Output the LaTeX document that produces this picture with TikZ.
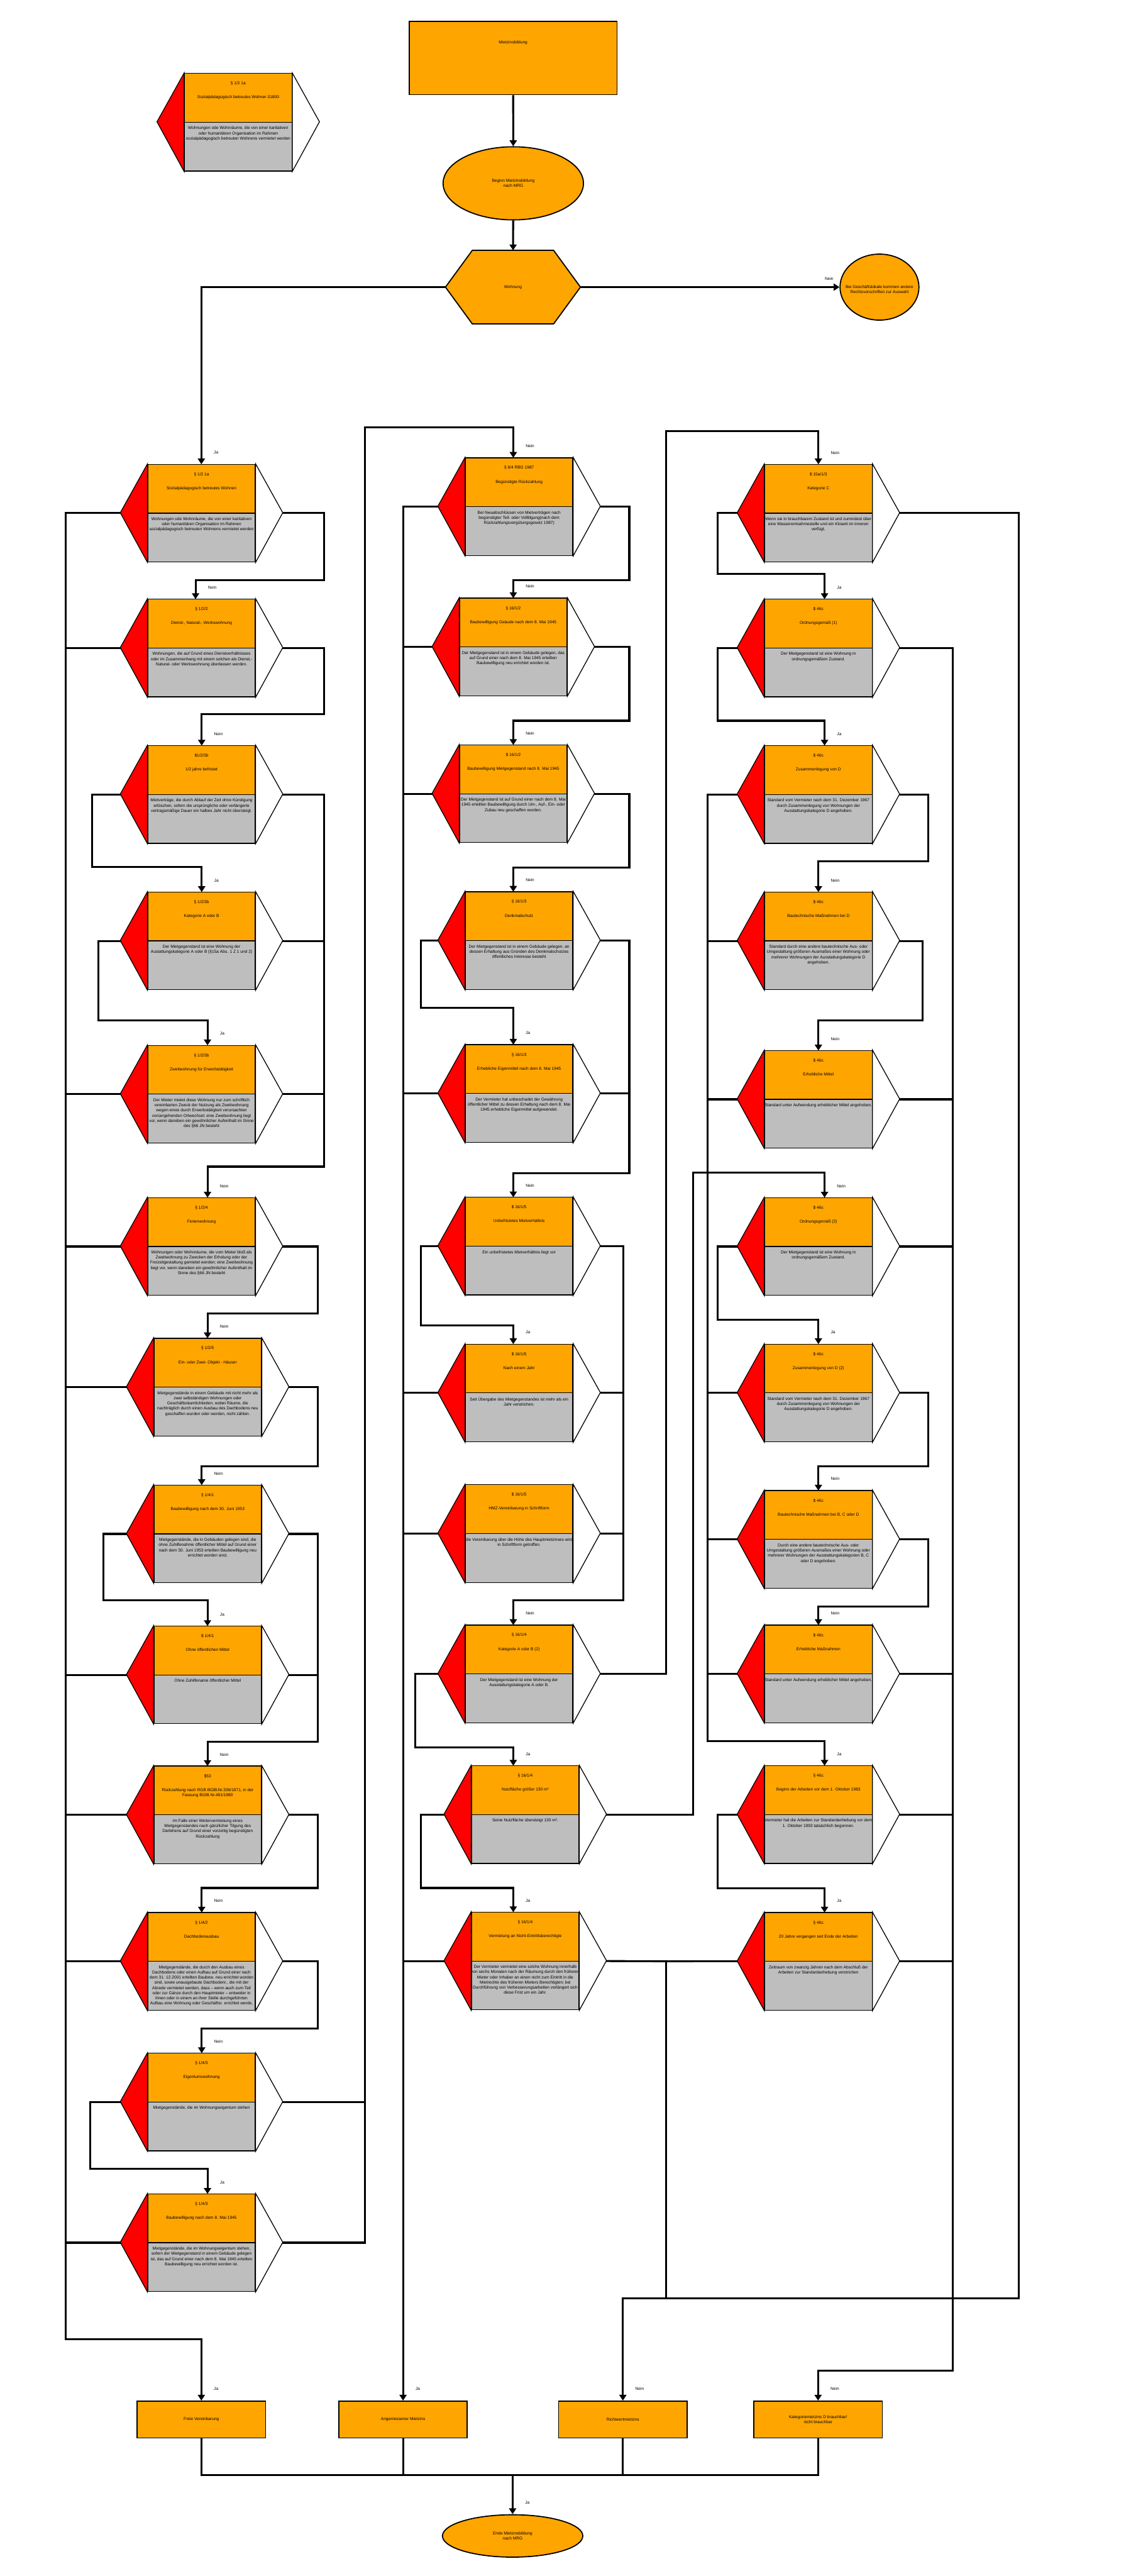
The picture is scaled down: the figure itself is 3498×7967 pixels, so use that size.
\documentclass[tikz,border=0pt]{standalone}
\usepackage{fontspec}
\setmainfont{Liberation Sans}
\usetikzlibrary{arrows.meta,shapes.geometric,positioning,backgrounds}

\definecolor{orangeA}{HTML}{FFA500}
\definecolor{grauA}{HTML}{BEBEBE}
\newcommand{\schrift}{\fontsize{3.65}{4.55}\selectfont}

% Pruefelement: Name, Mitte x, Oberkante y, Pfeil x, Paragraph, Titel, Beschreibung
\newcommand{\pruefung}[7]{%
  \node[kopf] (#1) at (#2,#3+75.5) {};
  \node[rumpf] (#1-b) at (#2,#3+226.5) {};
  \filldraw[jaseite] (#1.north west) -- ++(-84,151) -- (#1-b.south west) -- cycle;
  \filldraw[neinseite] (#1.north east) -- ++(84,151) -- (#1-b.south east) -- cycle;
  \coordinate (#1-w) at (#2-250,#3+151);
  \coordinate (#1-e) at (#2+250,#3+151);
  \coordinate (#1-n) at (#4,#3);
  \node[txt, anchor=north] (#1-p) at (#2,#3+25) {#5};
  \node[txt, anchor=north] (#1-t) at (#2,#3+68) {#6};
  \node[txt, anchor=north] (#1-d) at (#2,#3+163.5) {#7};
}
% Antwort am Pfeil
\newcommand{\antwort}[3]{\node[marke, anchor=west] (#1) at ([xshift=0.38cm,yshift=0.36cm]#2) {#3};}

\begin{document}
\begin{tikzpicture}[x=0.01cm, y=-0.01cm,
    kopf/.style={rectangle, draw, fill=orangeA, minimum width=3.32cm, minimum height=1.51cm,
      inner sep=0pt, line width=0.025cm},
    rumpf/.style={kopf, fill=grauA},
    jaseite/.style={fill=red, draw, line width=0.025cm},
    neinseite/.style={fill=white, draw, line width=0.025cm},
    txt/.style={font=\schrift, align=center, inner sep=0pt},
    marke/.style={font=\schrift, inner sep=0pt},
    kasten/.style={rectangle, draw, fill=orangeA, line width=0.03cm, inner sep=0pt,
      font=\schrift, align=center},
    rund/.style={ellipse, draw, fill=orangeA, line width=0.035cm, inner sep=0pt,
      font=\schrift, align=center},
    verb/.style={line width=0.06cm},
    pfeil/.style={verb, -{Triangle[width=0.22cm,length=0.18cm]}}]

    \useasboundingbox (0,0) rectangle (3498,7967);
    \begin{scope}[on background layer]
      \fill[white] (0,0) rectangle (3498,7967);
    \end{scope}

    % Start
    \node[kasten, minimum width=6.43cm, minimum height=2.27cm] (start) at (1587.5,179.5) {};
    \node[txt, anchor=north] (starttext) at (1587.5,126) {Mietzinsbildung};
    \node[rund, minimum width=4.34cm, minimum height=2.26cm] (beginn) at (1588,567) {Beginn Mietzinsbildung\\nach MRG};

    % Wohnung
    \node[minimum width=4.16cm, minimum height=2.26cm, inner sep=0pt, font=\schrift] (wohnung) at (1587,888) {Wohnung};
    \begin{scope}[on background layer]
      \filldraw[fill=orangeA, line width=0.035cm] (wohnung.west) -- ([xshift=0.83cm]wohnung.north west)
        -- ([xshift=-0.83cm]wohnung.north east) -- (wohnung.east)
        -- ([xshift=-0.83cm]wohnung.south east) -- ([xshift=0.83cm]wohnung.south west) -- cycle;
    \end{scope}
    \node[rund, minimum width=2.44cm, minimum height=2.04cm] (geschaeft) at (2721,888) {};
    \node[txt, anchor=north] (geschaefttext) at (2721,882) {Bei Geschäftslokale kommen andere\\Rechtsvorschriften zur Auswahl};

    % Legende
    \pruefung{legende}{737}{227}{737}{§ 1/2 1a}{Sozialpädagogisch betreutes Wohner-31800}
      {Wohnungen ode Wohnräume, die von einer karitativen\\oder humanitären Organisation im Rahmen\\sozialpädagogisch betreuten Wohnens vermietet werden}

    % Spalte links
    \pruefung{l1}{623.5}{1436}{623}{§ 1/2 1a}{Sozialpädagogisch betreutes Wohnen}
      {Wohnungen ode Wohnräume, die von einer karitativen\\oder humanitären Organisation im Rahmen\\sozialpädagogisch betreuten Wohnens vermietet werden}
    \pruefung{l2}{623.5}{1853}{605}{§ 1/2/2}{Dienst-, Natural-, Werkswohnung}
      {Wohnungen, die auf Grund eines Dienstverhältnisses\\oder im Zusammenhang mit einem solchen als Dienst,-\\Natural- oder Werkswohnung überlassen werden.}
    \pruefung{l3}{623.5}{2306}{624}{\$1/2/3b}{1/2 jahre befristet}
      {Mietverträge, die durch Ablauf der Zeit ohne Kündigung\\erlöschen, sofern die ursprüngliche oder verlängerte\\vertragsmäßige Dauer ein halbes Jahr nicht übersteigt.}
    \pruefung{l4}{623.5}{2759}{624}{§ 1/2/3b}{Kategorie A oder B}
      {Der Mietgegenstand ist eine Wohnung der\\Austattungskategorie A oder B (§15a Abs. 1 Z 1 und 2)}
    \pruefung{l5}{623.5}{3233}{642}{§ 1/2/3b}{Zweitwohnung für Erwerbstätigkeit}
      {Der Mieter mietet diese Wohnung nur zum schriftlich\\vereinbarten Zweck der Nutzung als Zweitwohnung\\wegen eines durch Erwerbstätigkeit verursachten\\vorüergehenden Ortwechsel; eine Zweitwohnung liegt\\vor, wenn daneben ein gewöhnlicher Aufenthalt im Sinne\\des §66 JN besteht}
    \pruefung{l6}{623.5}{3704}{642}{§ 1/2/4}{Ferienwohnung}
      {Wohnungen oder Wohnräume, die vom Mieter bloß als\\Zweitwohnung zu Zwecken der Erholung oder der\\Freizeitgestaltung gemietet werden; eine Zweitwohnung\\liegt vor, wenn daneben ein gewöhnlicher Aufenthalt im\\Sinne des §66 JN besteht}
    \pruefung{l7}{642.5}{4139}{642}{§ 1/2/5}{Ein- oder Zwei- Objekt - Häuser}
      {Mietgegenstände in einem Gebäude mit nicht mehr als\\zwei selbständigen Wohnungen oder\\Geschäftsräumlichkeiten, wobei Räume, die\\nachträglich durch einen Ausbau des Dachbodens neu\\geschaffen wurden oder werden, nicht zählen.}
    \pruefung{l8}{642.5}{4593}{624}{§ 1/4/1}{Baubewilligung nach dem 30. Juni 1953}
      {Mietgegenstände, die in Gebäuden gelegen sind, die\\ohne Zuhilfenahme öffentlicher Mittel auf Grund einer\\nach dem 30. Juni 1953 erteilten Baubewilligung neu\\errichtet worden sind,}
    \pruefung{l9}{642.5}{5029}{642}{\$ 1/4/1}{Ohne öffentlichen Mittel}
      {Ohne Zuhilfename öffentlicher Mittel}
    \pruefung{l10}{642.5}{5462}{642}{\$53}{Rückzahlung nach RGB BGBl.Nr.336/1971, in der\\Fassung BGBl.Nr.481/1980}
      {Im Falle einer Weitervermietung eines\\Mietgegenstandes nach gänzlicher Tilgung des\\Darlehens auf Grund einer vorzeitig begünstigten\\Rückzahlung}
    \pruefung{l11}{623.5}{5915}{624}{§ 1/4/2}{Dachbodenausbau}
      {Mietgegenstände, die durch den Ausbau eines\\Dachbodens oder einen Aufbau auf Grund einer nach\\dem 31. 12.2001 erteilten Baubew. neu errichtet worden\\sind, sowie unausgebaute Dachbodenr., die mit der\\Abrede vermietet werden, dass – wenn auch zum Teil\\oder zur Gänze durch den Hauptmieter – entweder in\\ihnen oder in einem an ihrer Stelle durchgeführten\\Aufbau eine Wohnung oder Geschäftsr. errichtet werde,}
    \pruefung{l12}{623.5}{6350}{624}{§ 1/4/3}{Eigentumswohnung}
      {Mietgegenstände, die im Wohnungseigentum stehen}
    \pruefung{l13}{623.5}{6785}{642}{§ 1/4/3}{Baubewilligung nach dem 8. Mai 1945}
      {Mietgegenstände, die im Wohnungseigentum stehen,\\sofern der Mietgegenstand in einem Gebäude gelegen\\ist, das auf Grund einer nach dem 8. Mai 1945 erteilten\\Baubewilligung neu errichtet worden ist.}

    % Spalte Mitte
    \pruefung{m1}{1606}{1416}{1588}{§ 6/4 RBG 1987}{Begünstigte Rückzahlung}
      {Bei Nwuabschlüssen von Mietverträgen nach\\begünstigter Teil- oder Volltilgung(nach dem\\Rückzahlungsvergütungsgesetz 1987)}
    \pruefung{m2}{1588}{1850}{1588}{§ 16/1/2}{Baubewilligung Geäude nach dem 8. Mai 1945}
      {Der Mietgegenstand ist in einem Gebäude gelegen, das\\auf Grund einer nach dem 8. Mai 1945 erteilten\\Baubewilligung neu errichtet worden ist.}
    \pruefung{m3}{1588}{2304}{1588}{\$ 16/1/2}{Baubewilligung Mietgegenstand nach 8. Mai 1945}
      {Der Mietgegenstand ist auf Grund einer nach dem 8. Mai\\1945 erteilten Baubewilligung durch Um-, Auf-, Ein- oder\\Zubau neu geschaffen worden.}
    \pruefung{m4}{1606}{2758}{1588}{§ 16/1/3}{Denkmalschutz}
      {Der Mietgegenstand ist in einem Gebäude gelegen, an\\dessen Erhaltung aus Gründen des Denkmalschutzes\\öffentliches Interesse besteht}
    \pruefung{m5}{1606}{3231}{1588}{§ 16/1/3}{Erhebliche Eigenmittel nach dem 8. Mai 1945}
      {Der Vermieter hat unbeschadet der Gewährung\\öffentlicher Mittel zu dessen Erhaltung nach dem 8. Mai\\1945 erhebliche Eigenmittel aufgewendet.}
    \pruefung{m6}{1606}{3703}{1588}{\$ 16/1/5}{Unbefristetes Mietverhältnis}
      {Ein unbefristetes Mietverhältnis liegt vor}
    \pruefung{m7}{1606}{4157}{1588}{\$ 16/1/5}{Nach einem Jahr}
      {Seit Übergabe des Mietgegenstandes ist mehr als ein\\Jahr verstrichen.}
    \pruefung{m8}{1606}{4592}{1588}{\$ 16/1/5}{HMZ-Vereinbarung in Schriftform}
      {die Vereinbarung über die Höhe des Hauptmietzinses wird\\in Schriftform getroffen.}
    \pruefung{m9}{1606}{5026}{1588}{§ 16/1/4}{Kategorie A oder B (2)}
      {Der Mietgegenstand ist eine Wohnung der\\Ausstattungskategorie A oder B.}
    \pruefung{m10}{1625}{5461}{1588}{§ 16/1/4}{Nutzfläche größer 130 m²}
      {Seine Nutzfläche übersteigt 130 m².}
    \pruefung{m11}{1625}{5914}{1588}{§ 16/1/4}{Vermietung an Nicht-Eintrittsberechtigte}
      {Der Vermieter vermietet eine solche Wohnung innerhalb\\von sechs Monaten nach der Räumung durch den früheren\\Mieter oder Inhaber an einen nicht zum Eintritt in die\\Mietrechte des früheren Mieters Berechtigten; bei\\Durchführung von Verbesserungsarbeiten verlängert sich\\diese Frist um ein Jahr.}

    % Spalte rechts
    \pruefung{r1}{2532}{1436}{2532}{\$ 15a/1/3}{Kategorie C}
      {Wenn sie in brauchbarem Zustand ist und zumindest über\\eine Wasserentnahmestelle und ein Klosett im Inneren\\verfügt.}
    \pruefung{r2}{2532}{1853}{2551}{\$ 46c}{Ordnungsgemäß (1)}
      {Der Mietgegenstand ist eine Wohnung in\\ordnungsgemäßem Zustand.}
    \pruefung{r3}{2532}{2306}{2551}{\$ 46c}{Zusammenlegung von D}
      {Standard vom Vermieter nach dem 31. Dezember 1967\\durch Zusammenlegung von Wohnungen der\\Ausstattungskategorie D angehoben.}
    \pruefung{r4}{2532}{2759}{2532}{\$ 46c}{Bautechnische Maßnahmen bei D}
      {Standard durch eine andere bautechnische Aus- oder\\Umgestaltung größeren Ausmaßes einer Wohnung oder\\mehrerer Wohnungen der Ausstattungskategorie D\\angehoben.}
    \pruefung{r5}{2532}{3249}{2532}{\$ 46c}{Erhebliche Mittel}
      {Standard unter Aufwendung erheblicher Mittel angehoben.}
    \pruefung{r6}{2532}{3704}{2551}{\$ 46c}{Ordnungsgemäß (2)}
      {Der Mietgegenstand ist eine Wohnung in\\ordnungsgemäßem Zustand.}
    \pruefung{r7}{2532}{4157}{2532}{\$ 46c}{Zusammenlegung von D (2)}
      {Standard vom Vermieter nach dem 31. Dezember 1967\\durch Zusammenlegung von Wohnungen der\\Ausstattungskategorie D angehoben.}
    \pruefung{r8}{2532}{4610}{2532}{\$ 46c}{Bautechnische Maßnahmen bei B, C oder D}
      {Durch eine andere bautechnische Aus- oder\\Umgestaltung größeren Ausmaßes einer Wohnung oder\\mehrerer Wohnungen der Ausstattungskategorien B, C\\oder D angehoben.}
    \pruefung{r9}{2532}{5026}{2532}{\$ 46c}{Erhebliche Maßnahmen}
      {Standard unter Aufwendung erheblicher Mittel angehoben.}
    \pruefung{r10}{2532}{5461}{2551}{§ 46c}{Beginn der Arbeiten vor dem 1. Oktober 1983}
      {Vermieter hat die Arbeiten zur Standardanhebung vor dem\\1. Oktober 1993 tatsächlich begonnen.}
    \pruefung{r11}{2532}{5915}{2551}{§ 46c}{20 Jahre vergangen seit Ende der Arbeiten}
      {Zeitraum von zwanzig Jahren nach dem Abschluß der\\Arbeiten zur Standardanhebung verstrichen}

    % Ergebnisse
    \node[kasten, minimum width=3.97cm, minimum height=1.14cm] (frei) at (623,7483) {Freie Vereinbarung};
    \node[kasten, minimum width=3.97cm, minimum height=1.14cm] (angemessen) at (1247,7483) {Angemessener Mietzins};
    \node[kasten, minimum width=3.97cm, minimum height=1.14cm] (richtwert) at (1927,7483) {Richtwertmietzins};
    \node[kasten, minimum width=3.97cm, minimum height=1.14cm] (kategorie) at (2531,7483) {Kategoriemietzins D brauchbar/\\nicht brauchbar};
    \node[rund, minimum width=4.34cm, minimum height=1.31cm] (ende) at (1586,7843) {Ende Mietzinsbildung\\nach MRG};
    \coordinate (busfrei) at (203,7235);
    \coordinate (buskat) at (2947,7332);
    \coordinate (sammel) at (1586,7654);

    % Verbindungen oben
    \draw[pfeil] (start) -- (beginn);
    \draw[pfeil] (beginn) -- (wohnung);
    \draw[pfeil] (wohnung.west) -| (l1-n);
    \antwort{l1a}{l1-n}{Ja}
    \draw[pfeil] (wohnung.east) -- (geschaeft);
    \node[marke, anchor=south east] (geschaefta) at ([xshift=-0.18cm,yshift=0.2cm]geschaeft.west) {Nein};

    % Verbindungen links
    \draw[pfeil] (l1-e) -| (1002,1794) -| (l2-n);
    \antwort{l2a}{l2-n}{Nein}
    \draw[pfeil] (l2-e) -| (1002,2209) -| (l3-n);
    \antwort{l3a}{l3-n}{Nein}
    \draw[pfeil] (l3-w) -| (285,2682) -| (l4-n);
    \antwort{l4a}{l4-n}{Ja}
    \draw[pfeil] (l4-w) -| (305,3155) -| (l5-n);
    \antwort{l5a}{l5-n}{Ja}
    \draw[pfeil] (l3-e) -| (1002,3608) -| (l6-n);
    \draw[verb] (l4-e) -- (1002,2910);
    \draw[verb] (l5-e) -- (1002,3384);
    \antwort{l6a}{l6-n}{Nein}
    \draw[pfeil] (l6-e) -| (984,4062) -| (l7-n);
    \antwort{l7a}{l7-n}{Nein}
    \draw[pfeil] (l7-e) -| (984,4535) -| (l8-n);
    \antwort{l8a}{l8-n}{Nein}
    \draw[pfeil] (l8-w) -| (320,4950) -| (l9-n);
    \antwort{l9a}{l9-n}{Ja}
    \draw[pfeil] (l8-e) -| (984,5386) -| (l10-n);
    \draw[verb] (l9-e) -- (984,5180);
    \antwort{l10a}{l10-n}{Nein}
    \draw[pfeil] (l10-e) -| (984,5839) -| (l11-n);
    \antwort{l11a}{l11-n}{Nein}
    \draw[pfeil] (l11-e) -| (984,6274) -| (l12-n);
    \antwort{l12a}{l12-n}{Nein}
    \draw[pfeil] (l12-w) -| (280,6708) -| (l13-n);
    \antwort{l13a}{l13-n}{Ja}
    \draw[pfeil] (l13-e) -| (1129,1322) -| (m1-n);
    \draw[verb] (l12-e) -- (1129,6501);
    \antwort{m1a}{m1-n}{Nein}

    % Sammelleitung freie Vereinbarung
    \draw[pfeil] (l1-w) -| (busfrei) -| (frei);
    \draw[verb] (l2-w) -- (l2-w -| busfrei);
    \draw[verb] (l5-w) -- (l5-w -| busfrei);
    \draw[verb] (l6-w) -- (l6-w -| busfrei);
    \draw[verb] (l7-w) -- (l7-w -| busfrei);
    \draw[verb] (l9-w) -- (l9-w -| busfrei);
    \draw[verb] (l10-w) -- (l10-w -| busfrei);
    \draw[verb] (l11-w) -- (l11-w -| busfrei);
    \draw[verb] (l13-w) -- (l13-w -| busfrei);

    % Verbindungen Mitte
    \draw[pfeil] (m1-e) -| (1947,1794) -| (m2-n);
    \antwort{m2a}{m2-n}{Nein}
    \draw[pfeil] (m2-e) -| (1947,2229) -| (m3-n);
    \antwort{m3a}{m3-n}{Nein}
    \draw[pfeil] (m3-e) -| (1947,2683) -| (m4-n);
    \antwort{m4a}{m4-n}{Nein}
    \draw[pfeil] (m4-w) -| (1303,3117) -| (m5-n);
    \antwort{m5a}{m5-n}{Ja}
    \draw[pfeil] (m4-e) -| (1947,3628) -| (m6-n);
    \draw[verb] (m5-e) -- (1947,3382);
    \antwort{m6a}{m6-n}{Nein}
    \draw[pfeil] (m6-w) -| (1303,4099) -| (m7-n);
    \antwort{m7a}{m7-n}{Ja}
    \draw[pfeil] (m6-e) -| (1928,4950) -| (m9-n);
    \draw[verb] (m7-e) -- (1928,4308);
    \draw[verb] (m8-e) -- (1928,4743);
    \antwort{m9a}{m9-n}{Nein}
    \draw[pfeil] (m9-w) -| (1284,5405) -| (m10-n);
    \antwort{m10a}{m10-n}{Ja}
    \draw[pfeil] (m10-w) -| (1303,5839) -| (m11-n);
    \antwort{m11a}{m11-n}{Ja}

    % Sammelleitung angemessener Mietzins
    \draw[pfeil] (m1-w) -| (angemessen);
    \draw[verb] (m2-w) -- (m2-w -| angemessen);
    \draw[verb] (m3-w) -- (m3-w -| angemessen);
    \draw[verb] (m5-w) -- (m5-w -| angemessen);
    \draw[verb] (m7-w) -- (m7-w -| angemessen);
    \draw[verb] (m8-w) -- (m8-w -| angemessen);
    \draw[verb] (m11-w) -- (m11-w -| angemessen);

    % Verbindungen rechts
    \draw[pfeil] (m9-e) -| (2060,1333) -| (r1-n);
    \antwort{r1a}{r1-n}{Nein}
    \draw[pfeil] (r1-w) -| (2220,1775) -| (r2-n);
    \antwort{r2a}{r2-n}{Ja}
    \draw[pfeil] (r2-w) -| (2220,2229) -| (r3-n);
    \antwort{r3a}{r3-n}{Ja}
    \draw[pfeil] (r3-e) -| (2872,2663) -| (r4-n);
    \antwort{r4a}{r4-n}{Nein}
    \draw[pfeil] (r4-e) -| (2854,3155) -| (r5-n);
    \antwort{r5a}{r5-n}{Nein}
    \draw[pfeil] (m10-e) -| (2145,3627) -| (r6-n);
    \draw[verb] (m11-e) -- (2145,6066);
    \antwort{r6a}{r6-n}{Nein}
    \draw[pfeil] (r6-w) -| (2220,4081) -| (r7-n);
    \antwort{r7a}{r7-n}{Ja}
    \draw[pfeil] (r7-e) -| (2872,4535) -| (r8-n);
    \antwort{r8a}{r8-n}{Nein}
    \draw[pfeil] (r8-e) -| (2872,4969) -| (r9-n);
    \antwort{r9a}{r9-n}{Nein}
    \draw[pfeil] (r3-w) -| (2190,5385) -| (r10-n);
    \draw[verb] (r4-w) -- (2190,2910);
    \draw[verb] (r5-w) -- (2190,3400);
    \draw[verb] (r7-w) -- (2190,4308);
    \draw[verb] (r8-w) -- (2190,4761);
    \draw[verb] (r9-w) -- (2190,5177);
    \antwort{r10a}{r10-n}{Ja}
    \draw[pfeil] (r10-w) -| (2220,5840) -| (r11-n);
    \antwort{r11a}{r11-n}{Ja}
    \draw[verb] (r11-w) -| (2060,7108);

    % Sammelleitungen Richtwert und Kategorie
    \draw[pfeil] (r1-e) -| (3152,7108) -| (richtwert);
    \draw[pfeil] (r2-e) -| (buskat) -| (kategorie);
    \draw[verb] (r5-e) -- (r5-e -| buskat);
    \draw[verb] (r6-e) -- (r6-e -| buskat);
    \draw[verb] (r9-e) -- (r9-e -| buskat);
    \draw[verb] (r10-e) -- (r10-e -| buskat);
    \draw[verb] (r11-e) -- (r11-e -| buskat);

    % Ergebnisse zum Ende
    \antwort{freia}{frei.north}{Ja}
    \antwort{angemessena}{angemessen.north}{Ja}
    \antwort{richtwerta}{richtwert.north}{Nein}
    \antwort{kategoriea}{kategorie.north}{Nein}
    \draw[verb] (frei) -- (frei |- sammel) -- (kategorie |- sammel) -- (kategorie);
    \draw[verb] (angemessen) -- (angemessen |- sammel);
    \draw[verb] (richtwert) -- (richtwert |- sammel);
    \draw[pfeil] (sammel) -- (ende);
    \antwort{endea}{ende.north}{Ja}
\end{tikzpicture}
\end{document}
